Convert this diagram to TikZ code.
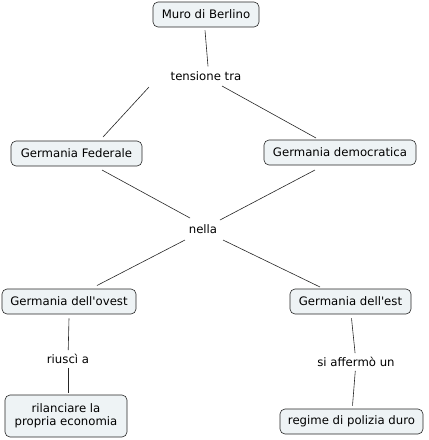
\documentclass[tikz,border=0pt]{standalone}
\usepackage{fontspec}
\setmainfont{DejaVu Sans}
\begin{document}
\begin{tikzpicture}[x=1pt,y=-1pt,
  concept/.style={draw=black!85, fill=boxfill, rounded corners=5pt, line width=0.6pt,
    font=\fontsize{11.7}{13.5}\selectfont, inner sep=0pt, align=center},
  linklabel/.style={font=\fontsize{11.7}{13.5}\selectfont, inner sep=4pt, fill=white},
  conn/.style={draw=black!85, line width=0.6pt}]
\definecolor{boxfill}{HTML}{EEF3F5}
\useasboundingbox (0,0) rectangle (429,440);
\node[concept, minimum width=106pt, minimum height=25pt] (muro) at (206,14.5) {Muro di Berlino};
\node[linklabel] (tens) at (206,76) {tensione tra};
\node[concept, minimum width=131pt, minimum height=25pt] (fed) at (76.5,153.5) {Germania Federale};
\node[concept, minimum width=152pt, minimum height=25pt] (dem) at (340,152.5) {Germania democratica};
\node[linklabel] (nella) at (203,229) {nella};
\node[concept, minimum width=134pt, minimum height=25pt] (ovest) at (69,301.5) {Germania dell\textquotesingle ovest};
\node[concept, minimum width=121pt, minimum height=25pt] (est) at (350.5,301.5) {Germania dell\textquotesingle est};
\node[linklabel] (riusci) at (68,359) {riuscì a};
\node[linklabel] (affermo) at (356,362) {si affermò un};
\node[concept, minimum width=122pt, minimum height=42pt] (econ) at (66,416) {rilanciare la\\propria economia};
\node[concept, minimum width=143pt, minimum height=25pt] (regime) at (351.5,421.5) {regime di polizia duro};
\draw[conn] ([shift={(-1,3)}]muro.south) -- ([shift={(2,-1)}]tens.north);
\draw[conn] ([shift={(-57,11)}]tens.center) -- ([shift={(26.5,-16.5)}]fed.center);
\draw[conn] ([shift={(16,10)}]tens.center) -- ([shift={(-24,-14.5)}]dem.center);
\draw[conn] ([shift={(25.5,16.5)}]fed.center) -- ([shift={(-13,-11)}]nella.center);
\draw[conn] ([shift={(-25,17.5)}]dem.center) -- ([shift={(17,-9)}]nella.center);
\draw[conn] ([shift={(-18,11)}]nella.center) -- ([shift={(28,-16)}]ovest.center);
\draw[conn] ([shift={(20,11)}]nella.center) -- ([shift={(-30.5,-14.5)}]est.center);
\draw[conn] ([shift={(0,4)}]ovest.south) -- (riusci);
\draw[conn] (riusci) -- ([shift={(2,-2)}]econ.north);
\draw[conn] ([shift={(1,4)}]est.south) -- (affermo);
\draw[conn] (affermo) -- ([shift={(1,-3)}]regime.north);
\end{tikzpicture}
\end{document}
